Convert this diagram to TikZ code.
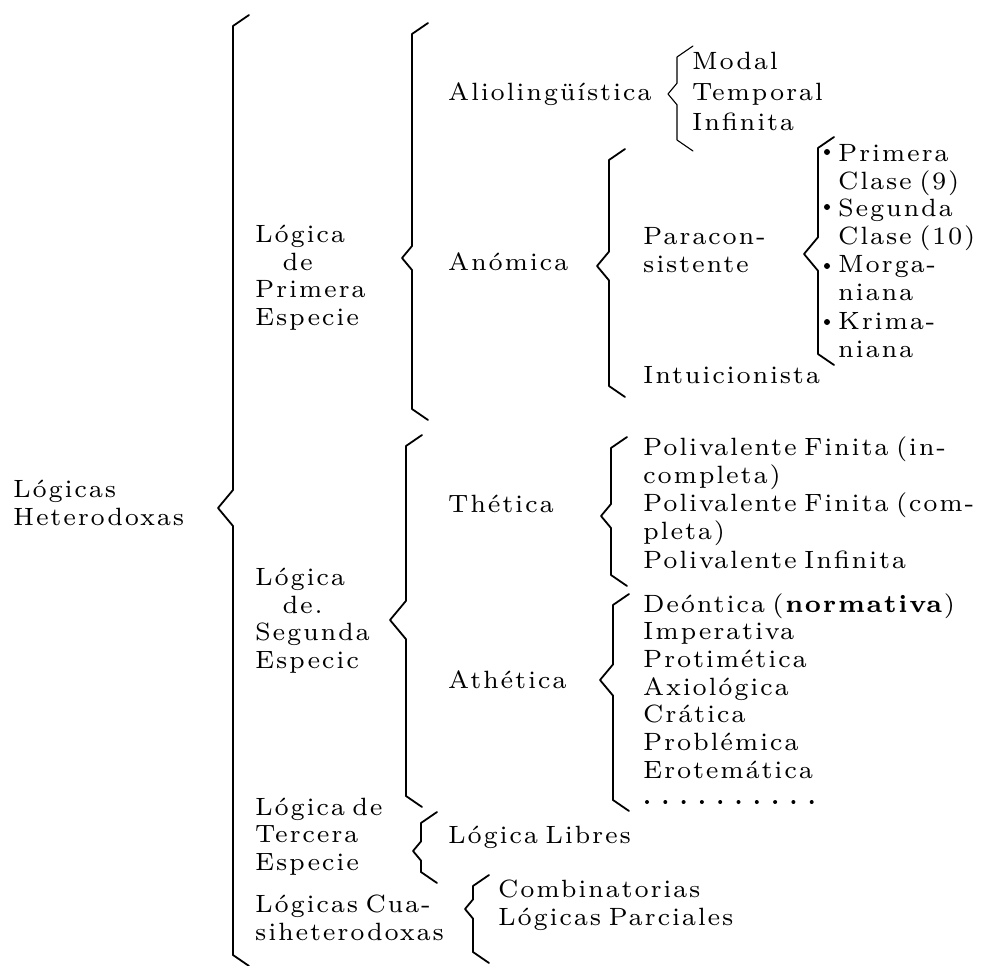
\documentclass[tikz,border=0pt]{standalone}
\usepackage{fontspec}
\setmainfont{lmroman7-regular.otf}[BoldFont=lmroman7-bold.otf, LetterSpace=7, WordSpace=0.65]
\tikzset{
  lbl/.style={inner sep=0pt, anchor=base west, align=left, font=\fontsize{25}{27.5}\selectfont},
  bracestroke/.style={line width=1.8pt, line join=round, line cap=round},
}
% flat hand-set brace: [extra style] x, top, middle, bottom, notch depth
\newcommand{\hbrace}[6][]{%
  \draw[bracestroke,#1] ({#2+16},{#3-11}) -- (#2,{#3}) -- (#2,{#4-1.2*#6}) -- ({#2-#6},{#4})
    -- (#2,{#4+1.2*#6}) -- (#2,{#5}) -- ({#2+16},{#5+11});%
}
\begin{document}
\begin{tikzpicture}[x=1pt,y=-1pt]
  \useasboundingbox (0,0) rectangle (983,966);

  % Marking the root (multi-line nodes sit on their last baseline)
  \node[lbl] (heterodoxas) at (13,525) {Lógicas\\Heterodoxas};

  % Marking the four species
  \node[lbl] (primera) at (255,325) {Lógica\\\hspace*{1.1em}de\\Primera\\Especie};
  \node[lbl] (segunda) at (255,668) {Lógica\\\hspace*{1.1em}de.\\Segunda\\Especic};
  \node[lbl] (tercera) at (255,870) {Lógica de\\Tercera\\Especie};
  \node[lbl] (cuasi) at (255,940) {Lógicas Cua-\\siheterodoxas};

  % Marking first species
  \node[lbl] (alio) at (448,100) {Aliolingüística};
  \node[lbl] (modal) at (692,70) {Modal};
  \node[lbl] (temporal) at (692,100) {Temporal};
  \node[lbl] (infinita) at (692,130) {Infinita};
  \node[lbl] (anomica) at (448,270) {Anómica};
  \node[lbl] (paracon) at (643,272) {Paracon-\\sistente};
  \node[lbl] (intuicion) at (643,383) {Intuicionista};
  \node[lbl] (primclase) at (838,189) {Primera\\Clase (9)};
  \node[lbl] (segclase) at (838,244) {Segunda\\Clase (10)};
  \node[lbl] (morgan) at (838,300) {Morga-\\niana};
  \node[lbl] (kriman) at (838,357) {Krima-\\niana};

  % Marking second species
  \node[lbl] (thetica) at (448,512) {Thética};
  \node[lbl] (polifin) at (643,483) {Polivalente Finita (in-\\completa)};
  \node[lbl] (policom) at (643,539) {Polivalente Finita (com-\\pleta)};
  \node[lbl] (poliinf) at (643,568) {Polivalente Infinita};
  \node[lbl] (athetica) at (448,688) {Athética};
  \foreach \nm/\txt [count=\k] in {deontica/Deóntica (\textbf{normativa}),
      imperativa/Imperativa, protimetica/Protimética, axiologica/Axiológica,
      cratica/Crática, problemica/Problémica, erotematica/Erotemática}
    \node[lbl] (\nm) at (643,{612+(\k-1)*27.7}) {\txt};
  \foreach \i in {0,...,9}
    \fill ({647+\i*18.3},802) circle[radius=2pt];

  % Marking third species and quasi-heterodox
  \node[lbl] (libres) at (448,843) {Lógica Libres};
  \node[lbl] (combinatorias) at (498,897) {Combinatorias};
  \node[lbl] (parciales) at (498,925) {Lógicas Parciales};

  % Drawing braces
  \foreach \bx/\btop/\bmid/\bbot/\bdep in {233/26/508/955/15, 412/34/258/409/10,
      406/446/620/796/16, 421/823/851/872/8, 473/886/909/952/8,
      609/160/266/386/12, 818/148/254/354/14, 611/448/516/575/10, 613/605/680/800/13}
    {\hbrace{\bx}{\btop}{\bmid}{\bbot}{\bdep}}
  \hbrace[line width=1.1pt]{677}{57}{94}{140}{9}

  % Marking the paraconsistent classes
  \foreach \by in {152,207,266,322}
    \fill (827,\by) circle[radius=3pt];
\end{tikzpicture}
\end{document}
